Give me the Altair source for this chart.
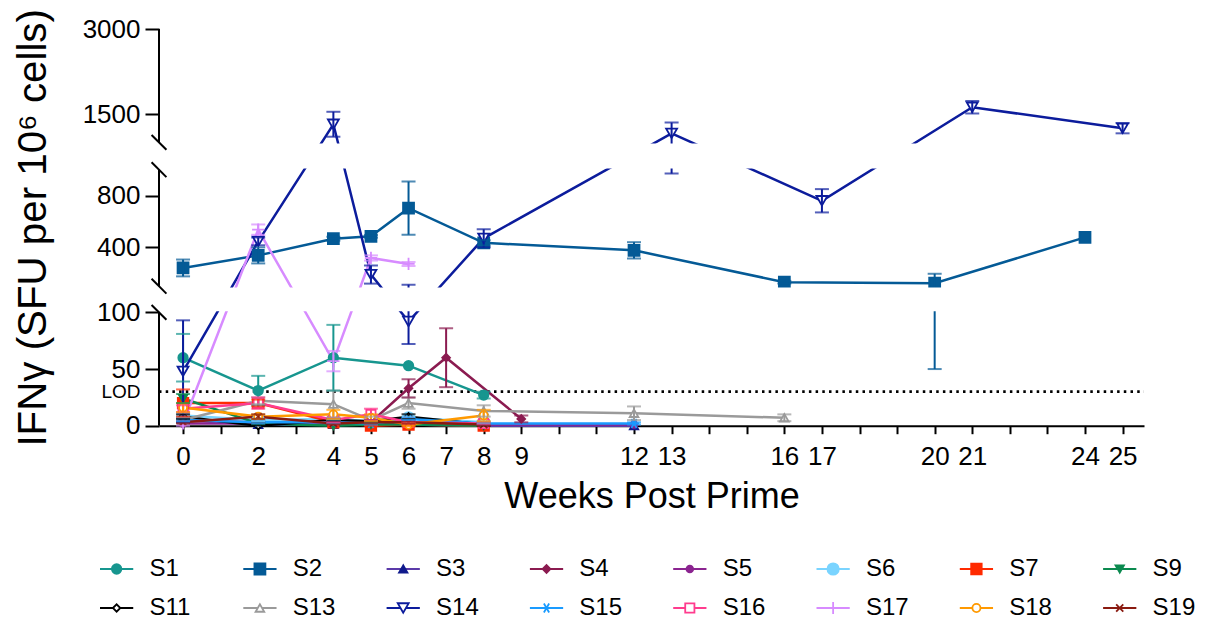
import altair as alt
import pandas as pd

# ---------------- data ----------------
SERIES = ["S1", "S2", "S3", "S4", "S5", "S6", "S7", "S9",
          "S11", "S13", "S14", "S15", "S16", "S17", "S18", "S19"]

WEEKS = {
    "S1": [0, 2, 4, 6, 8],
    "S2": [0, 2, 4, 5, 6, 8, 12, 16, 20, 24],
    "S3": [0, 2, 4, 5, 6, 8, 12],
    "S4": [0, 2, 4, 5, 6, 7, 9],
    "S5": [0, 2, 4, 5, 6, 8, 12],
    "S6": [0, 2, 4, 5, 6, 8],
    "S7": [0, 2, 4, 5, 6, 8],
    "S9": [0, 2, 4, 5, 6, 8],
    "S11": [0, 2, 4, 5, 6, 8],
    "S13": [0, 2, 4, 5, 6, 8, 12, 16],
    "S14": [0, 2, 4, 5, 6, 8, 13, 17, 21, 25],
    "S15": [0, 2, 4, 5, 6, 8, 12],
    "S16": [0, 2, 4, 5, 6, 8],
    "S17": [0, 2, 4, 5, 6],
    "S18": [0, 2, 4, 5, 6, 8],
    "S19": [0, 2, 4, 5, 6, 8],
}
MEANS = {
    "S1": [60, 31, 60, 53, 27],
    "S2": [241, 338, 467, 485, 703, 435, 377, 131, 123, 477],
    "S3": [5, 1, 1, 1, 1, 0, 0],
    "S4": [5, 3, 4, 3, 33, 60, 6],
    "S5": [2, 2, 1, 2, 1, 1, 1],
    "S6": [9, 5, 6, 4, 7, 3],
    "S7": [20, 20, 3, 0, 1, 0],
    "S9": [24, 2, 0, 1, 1, 0],
    "S11": [8, 0, 5, 4, 8, 1],
    "S13": [5, 22, 19, 5, 20, 13, 11, 7],
    "S14": [48, 446, 1320, 190, 92, 470, 1160, 760, 1620, 1250],
    "S15": [5, 3, 3, 2, 6, 2, 2],
    "S16": [15, 20, 5, 10, 3, 2],
    "S17": [2, 537, 57, 318, 272],
    "S18": [16, 8, 10, 7, 1, 9],
    "S19": [3, 8, 2, 3, 3, 1],
}
SEMS = {
    "S1": [21, 13, 29, 0, 3],
    "S2": [65, 62, 15, 10, 205, 20, 63, 10, 73, 0],
    "S3": [2, 0, 0, 0, 0, 0, 0],
    "S4": [2, 1, 2, 1, 8, 26, 3],
    "S5": [0, 0, 0, 0, 0, 0, 0],
    "S6": [2, 1, 1, 1, 1, 1],
    "S7": [12, 3, 1, 1, 1, 0],
    "S9": [4, 1, 0, 0, 0, 0],
    "S11": [2, 1, 1, 1, 2, 1],
    "S13": [2, 3, 12, 3, 5, 5, 6, 3],
    "S14": [45, 30, 220, 70, 20, 70, 190, 90, 110, 90],
    "S15": [1, 1, 1, 1, 1, 1, 1],
    "S16": [3, 5, 2, 5, 1, 1],
    "S17": [2, 40, 9, 20, 15],
    "S18": [4, 2, 4, 3, 1, 5],
    "S19": [1, 2, 1, 1, 1, 1],
}

LINE_COLORS = ["#17968f", "#045a96", "#5b3aa9", "#8b1b50", "#8b2490", "#7ad4ff", "#ff2a00", "#0b8a4f",
               "#000000", "#9a9a9a", "#0c1c9c", "#1a9bff", "#ff3c8e", "#d78bff", "#ff9900", "#8a1a10"]
MARK_COLORS = ["#17968f", "#045a96", "#101a8c", "#8b1b50", "#8b2490", "#7ad4ff", "#ff2a00", "#0b8a4f",
               "#000000", "#9a9a9a", "#0c1c9c", "#1a9bff", "#ff3c8e", "#d78bff", "#ff9900", "#8a1a10"]
AST = "M-1,0L1,0M-0.5,-0.87L0.5,0.87M-0.5,0.87L0.5,-0.87"
PLUS = "M-1,0L1,0M0,-1L0,1"
XMARK = "M-0.75,-0.75L0.75,0.75M-0.75,0.75L0.75,-0.75"
SHAPES = ["circle", "square", "triangle-up", "diamond", "circle", "circle", "square", "triangle-down",
          "diamond", "triangle-up", "triangle-down", AST, "square", PLUS, "circle", XMARK]
FILLS = ["#17968f", "#045a96", "#101a8c", "#8b1b50", "#8b2490", "#7ad4ff", "#ff2a00", "#0b8a4f",
         "white", "white", "white", "transparent", "white", "transparent", "white", "transparent"]
MSIZES = [90, 120, 70, 60, 45, 130, 110, 70, 55, 75, 120, 110, 85, 150, 65, 90]

X_TICKS = list(range(0, 26))
X_LABELS = [0, 2, 4, 5, 6, 7, 8, 9, 12, 13, 16, 17, 20, 21, 24, 25]
Y_TICKS = [0, 50, 100, 400, 800, 1500, 3000]
LOD = 30

# ---------------- layout (broken axis) ----------------
W, H = 985, 396.7
X_DOMAIN = [-0.64, 25.57]
# (value_lo, value_hi, pos_lo, pos_hi) in pixels from the bottom
SEGS = [(0, 100, 0.0, 113.3), (100, 1000, 139.5, 256.0), (1000, 3000, 283.3, 396.7)]


def tpos(v):
    for lo, hi, p0, p1 in SEGS:
        if v <= hi:
            return p0 + (v - lo) * (p1 - p0) / (hi - lo)
    lo, hi, p0, p1 = SEGS[-1]
    return p0 + (v - lo) * (p1 - p0) / (hi - lo)


def texpr(f):
    (l0, h0, a0, b0), (l1, h1, a1, b1), (l2, h2, a2, b2) = SEGS
    return (f"({f} <= {h0} ? {a0} + ({f}-{l0})*{(b0 - a0) / (h0 - l0)} : "
            f"({f} <= {h1} ? {a1} + ({f}-{l1})*{(b1 - a1) / (h1 - l1)} : "
            f"{a2} + ({f}-{l2})*{(b2 - a2) / (h2 - l2)}))")


rows = []
for s in SERIES:
    for w, m, e in zip(WEEKS[s], MEANS[s], SEMS[s]):
        rows.append({"series": s, "week": w, "mean": m, "sem": e})
df = pd.DataFrame(rows)

FONT = "Liberation Sans"

tick_pos = [tpos(v) for v in Y_TICKS]
lod_pos = tpos(LOD)
label_expr = ""
for v, p in zip(Y_TICKS, tick_pos):
    label_expr += f"abs(datum.value - {p}) < 0.5 ? '{v}' : "
label_expr += "'LOD'"
is_lod = f"abs(datum.value - {lod_pos}) < 0.5"

YS = alt.Scale(domain=[0, H], nice=False, zero=False)
YA = alt.Axis(values=tick_pos + [lod_pos], labelExpr=label_expr, domain=False, grid=False,
              tickSize=14, tickWidth=2, tickColor="black",
              tickOpacity={"condition": {"test": is_lod, "value": 0}, "value": 1},
              labelFontSize={"condition": {"test": is_lod, "value": 19}, "value": 26},
              labelColor="black", labelPadding=5, labelFont=FONT,
              title="IFNγ (SFU per 10⁶ cells)", titleFontSize=40.3, titleFontWeight="normal",
              titleColor="black", titlePadding=29, titleFont=FONT)
XS = alt.Scale(domain=X_DOMAIN, nice=False, zero=False)
XA = alt.Axis(values=X_TICKS, labelExpr=f"indexof({X_LABELS}, datum.value) >= 0 ? datum.value : ''",
              grid=False, domainColor="black", domainWidth=2, tickColor="black", tickWidth=2,
              tickSize=8, labelFontSize=26, labelColor="black", labelPadding=10, labelFont=FONT,
              labelOverlap=False, labelFlush=False, title="Weeks Post Prime", titleFontSize=36,
              titleFontWeight="normal", titleColor="black", titlePadding=10, titleFont=FONT)


def X(f="week"):
    return alt.X(f"{f}:Q", scale=XS, axis=XA)


def Y(f):
    return alt.Y(f"{f}:Q", scale=YS, axis=YA)


color_line = alt.Color("series:N", scale=alt.Scale(domain=SERIES, range=LINE_COLORS), legend=None)
color_mark = alt.Stroke("series:N", scale=alt.Scale(domain=SERIES, range=MARK_COLORS), legend=None)
fill_mark = alt.Fill("series:N", scale=alt.Scale(domain=SERIES, range=FILLS), legend=None)
shape_mark = alt.Shape("series:N", scale=alt.Scale(domain=SERIES, range=SHAPES), legend=None)
size_mark = alt.Size("series:N", scale=alt.Scale(type="ordinal", domain=SERIES, range=MSIZES), legend=None)

base = alt.Chart(df).transform_calculate(
    t=texpr("datum.mean"),
    lo="max(datum.mean - datum.sem, 0)",
    hi="datum.mean + datum.sem",
).transform_calculate(
    tlo=texpr("datum.lo"),
    thi=texpr("datum.hi"),
)

lines = base.mark_line(strokeWidth=2.5).encode(
    x=X(), y=Y("t"), color=color_line, detail="series:N", order="week:Q")
points = base.mark_point(opacity=1, strokeWidth=1.8).encode(
    x=X(), y=Y("t"), shape=shape_mark, stroke=color_mark, fill=fill_mark, size=size_mark)
err = base.transform_filter("datum.sem > 0")
bars = err.mark_rule(strokeWidth=2).encode(x=X(), y=Y("tlo"), y2="thi:Q", color=color_line)
cap_hi = err.mark_tick(orient="horizontal", size=14, thickness=2).encode(x=X(), y=Y("thi"), color=color_line)
cap_lo = err.mark_tick(orient="horizontal", size=14, thickness=2).encode(x=X(), y=Y("tlo"), color=color_line)

lod_line = alt.Chart(pd.DataFrame({"lod": [LOD]})).transform_calculate(
    t=texpr("datum.lod")).mark_rule(strokeDash=[2.5, 4.2], strokeWidth=2.8, color="black").encode(
    y=Y("t"), x=alt.value(0), x2=alt.value(W))

gaps_df = pd.DataFrame({"g0": [SEGS[0][3] + 1.2, SEGS[1][3] + 1.2],
                        "g1": [SEGS[1][2] - 1.2, SEGS[2][2] - 1.2]})
gaps = alt.Chart(gaps_df).mark_rect(color="white", opacity=1).encode(
    y=Y("g0"), y2="g1:Q", x=alt.value(-3), x2=alt.value(W + 10))

segs_df = pd.DataFrame({"p0": [s[2] for s in SEGS], "p1": [s[3] for s in SEGS]})
axis_segs = alt.Chart(segs_df).mark_rule(color="black", strokeWidth=2).encode(
    y=Y("p0"), y2="p1:Q", x=alt.value(0))
brk_df = pd.DataFrame({"b": [SEGS[0][3], SEGS[1][2], SEGS[1][3], SEGS[2][2]]})
breaks = alt.Chart(brk_df).mark_point(shape="M-1,-1L1,1", size=220, filled=False, opacity=1,
                                      color="black", strokeWidth=2).encode(
    y=Y("b"), x=alt.value(0))

main = alt.layer(lod_line, lines, points, bars, cap_hi, cap_lo, gaps, axis_segs, breaks).properties(
    width=W, height=H)

# ---------------- legend panel ----------------
COL_W = 143.3
LEG_X0 = -59.0  # first legend column, px relative to plot left edge
leg_df = pd.DataFrame({"series": SERIES,
                       "col": [i % 8 for i in range(len(SERIES))],
                       "row": [i // 8 for i in range(len(SERIES))]})
leg_base = alt.Chart(leg_df).transform_calculate(
    xa="datum.col", xb="datum.col + 0.232", xm="datum.col + 0.116", xt="datum.col + 0.345")
d0 = -LEG_X0 / COL_W
LXS = alt.Scale(domain=[d0, d0 + W / COL_W], nice=False, zero=False)
LYS = alt.Scale(domain=[0, 1], reverse=True, nice=False, zero=False)
lx = lambda f: alt.X(f"{f}:Q", scale=LXS, axis=None)
ly = alt.Y("row:Q", scale=LYS, axis=None)
leg_lines = leg_base.mark_rule(strokeWidth=2).encode(x=lx("xa"), x2="xb:Q", y=ly, color=color_line)
leg_pts = leg_base.mark_point(opacity=1, strokeWidth=1.8).encode(
    x=lx("xm"), y=ly, shape=shape_mark, stroke=color_mark, fill=fill_mark, size=size_mark)
leg_txt = leg_base.mark_text(align="left", baseline="middle", fontSize=24, font=FONT, color="black").encode(
    x=lx("xt"), y=ly, text="series:N")
legend = alt.layer(leg_lines, leg_pts, leg_txt).properties(width=W, height=39)

chart = alt.vconcat(main, legend, spacing=42).properties(
    padding={"left": 5, "top": 0, "right": 0, "bottom": 0}
).configure(font=FONT).configure_view(strokeWidth=0, stroke="transparent")

chart.save("out.html", embed_options={"renderer": "svg", "actions": False})
